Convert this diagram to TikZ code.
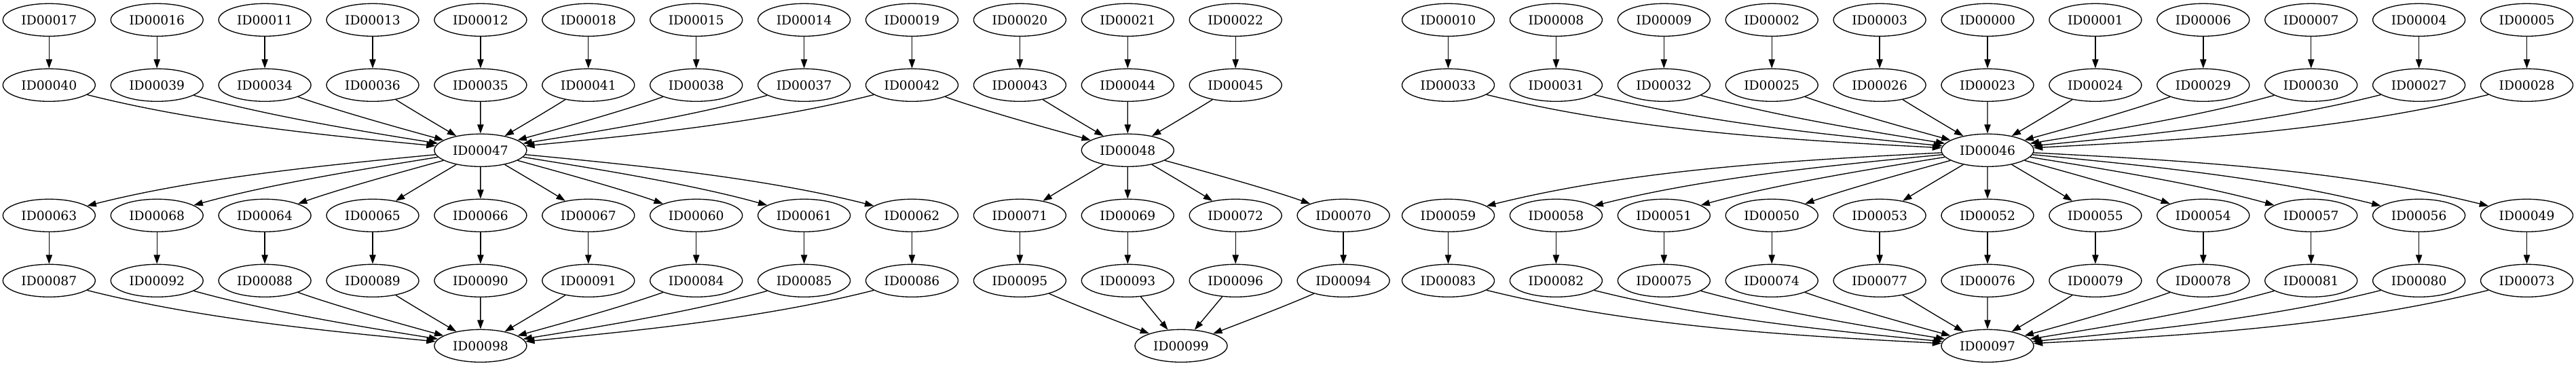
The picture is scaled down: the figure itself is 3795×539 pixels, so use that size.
\documentclass[tikz,border=0pt]{standalone}
\usepackage{fontspec}
\setmainfont{DejaVu Serif}
\usetikzlibrary{shapes.geometric,arrows.meta,calc}
\tikzset{
  nd/.style={draw, ellipse, minimum width=102pt, minimum height=36pt, inner sep=0pt, line width=1pt, font=\fontsize{14}{16}\selectfont},
  conn/.style={draw, line width=1pt, -{Triangle[length=10pt,width=7pt]}}
}
\newcommand\hubdx[2]{%
  \pgfpointanchor{#1}{center}\pgfgetlastxy{\edgeTx}{\edgeTy}%
  \pgfpointanchor{#2}{center}\pgfgetlastxy{\edgeHx}{\edgeHy}%
  \pgfmathsetmacro\edgeA{((\edgeHx-\edgeTx)/100)^2}%
  \pgfmathsetmacro\edgeB{0.533*\edgeA}}
\newcommand\inedge[2]{\hubdx{#1}{#2}%
  \draw[conn] (#1) .. controls ($(#1)!0.35!(#2)+(0,\edgeA)$) and ($(#1)!0.65!(#2)+(0,\edgeB)$) .. (#2);}
\newcommand\outedge[2]{\hubdx{#1}{#2}%
  \draw[conn] (#1) .. controls ($(#1)!0.35!(#2)+(0,-\edgeB)$) and ($(#1)!0.65!(#2)+(0,-\edgeA)$) .. (#2);}
\begin{document}
\begin{tikzpicture}[x=0.75pt,y=-0.75pt]
\useasboundingbox (0,0) rectangle (3795,539);
% row 0
\foreach \id [count=\k from 0] in {17,16,11,13,12,18,15,14,19,20,21,22}
  \node[nd] (n\id) at ({72.3+158.9*\k},29.3) {ID000\id};
\foreach \id [count=\k from 0] in {10,08,09,02,03,00,01,06,07,04,05}
  \node[nd] (n\id) at ({2133.5+158.9*\k},29.3) {ID000\id};
% row 1
\foreach \id [count=\k from 0] in {40,39,34,36,35,41,38,37,42,43,44,45}
  \node[nd] (n\id) at ({72.3+158.9*\k},125.3) {ID000\id};
\foreach \id [count=\k from 0] in {33,31,32,25,26,23,24,29,30,27,28}
  \node[nd] (n\id) at ({2133.5+158.9*\k},125.3) {ID000\id};
% row 2 hubs
\node[nd] (n47) at (707.9,221.3) {ID00047};
\node[nd] (n48) at (1661.3,221.3) {ID00048};
\node[nd] (n46) at (2928,221.3) {ID00046};
% row 3
\foreach \id [count=\k from 0] in {63,68,64,65,66,67,60,61,62,71,69,72,70}
  \node[nd] (n\id) at ({72.3+158.9*\k},317.3) {ID000\id};
\foreach \id [count=\k from 0] in {59,58,51,50,53,52,55,54,57,56,49}
  \node[nd] (n\id) at ({2133.5+158.9*\k},317.3) {ID000\id};
% row 4
\foreach \id [count=\k from 0] in {87,92,88,89,90,91,84,85,86,95,93,96,94}
  \node[nd] (n\id) at ({72.3+158.9*\k},413.3) {ID000\id};
\foreach \id [count=\k from 0] in {83,82,75,74,77,76,79,78,81,80,73}
  \node[nd] (n\id) at ({2133.5+158.9*\k},413.3) {ID000\id};
% row 5 sinks
\node[nd] (n98) at (707.9,509.3) {ID00098};
\node[nd] (n99) at (1740,509.3) {ID00099};
\node[nd] (n97) at (2928,509.3) {ID00097};
% vertical edges
\foreach \a/\b in {17/40,16/39,11/34,13/36,12/35,18/41,15/38,14/37,19/42,20/43,21/44,22/45,
  10/33,08/31,09/32,02/25,03/26,00/23,01/24,06/29,07/30,04/27,05/28,
  63/87,68/92,64/88,65/89,66/90,67/91,60/84,61/85,62/86,71/95,69/93,72/96,70/94,
  59/83,58/82,51/75,50/74,53/77,52/76,55/79,54/78,57/81,56/80,49/73}
  \draw[conn] (n\a) -- (n\b);
% into hubs
\foreach \a in {40,39,34,36,35,41,38,37,42} {\inedge{n\a}{n47}}
\foreach \a in {42,43,44,45} {\inedge{n\a}{n48}}
\foreach \a in {33,31,32,25,26,23,24,29,30,27,28} {\inedge{n\a}{n46}}
% out of hubs
\foreach \a in {63,68,64,65,66,67,60,61,62} {\outedge{n47}{n\a}}
\foreach \a in {71,69,72,70} {\outedge{n48}{n\a}}
\foreach \a in {59,58,51,50,53,52,55,54,57,56,49} {\outedge{n46}{n\a}}
% into sinks
\foreach \a in {87,92,88,89,90,91,84,85,86} {\inedge{n\a}{n98}}
\foreach \a in {95,93,96,94} {\inedge{n\a}{n99}}
\foreach \a in {83,82,75,74,77,76,79,78,81,80,73} {\inedge{n\a}{n97}}
\end{tikzpicture}
\end{document}
